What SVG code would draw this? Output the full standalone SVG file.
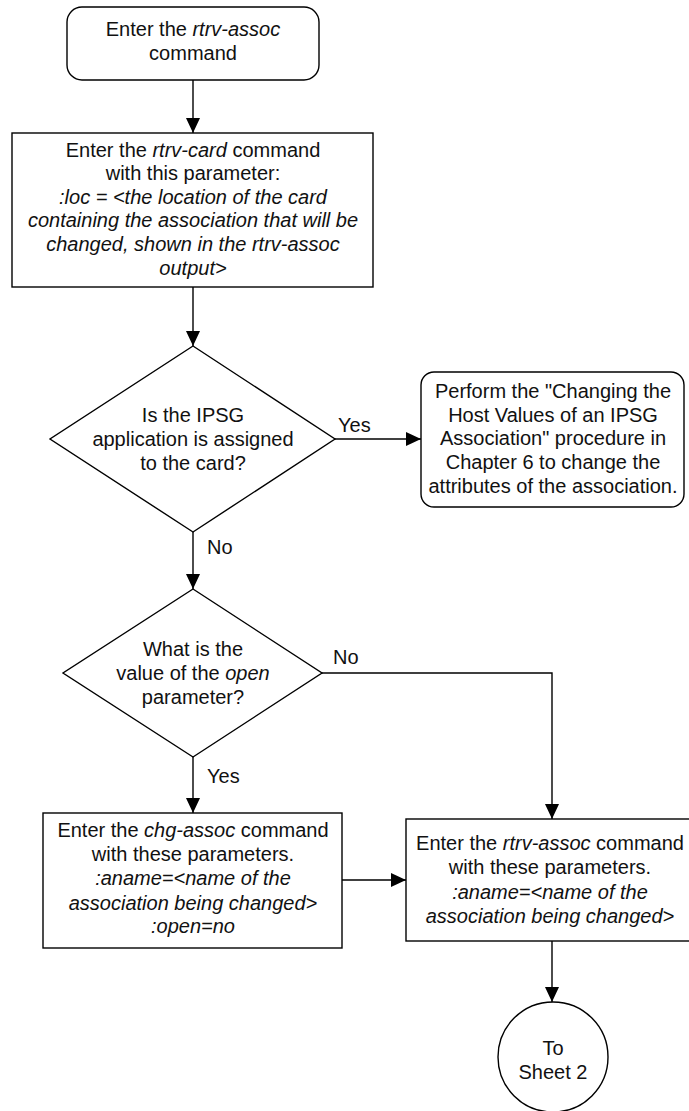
<svg xmlns="http://www.w3.org/2000/svg" width="689" height="1111" viewBox="0 0 689 1111">
<style>
.s{fill:#fff;stroke:#000;stroke-width:1.4}
.t{font-family:"Liberation Sans",Arial,sans-serif;font-size:20px;fill:#111;text-anchor:middle}
.l{font-family:"Liberation Sans",Arial,sans-serif;font-size:20px;fill:#111}
.i{font-style:italic}
.c{fill:none;stroke:#000;stroke-width:1.4}
</style>
<defs>
<marker id="ah" viewBox="0 0 15 14" refX="15" refY="7" markerWidth="15" markerHeight="14" markerUnits="userSpaceOnUse" orient="auto">
<path d="M0,0 L15,7 L0,14 Z" fill="#000"/>
</marker>
</defs>
<rect width="689" height="1111" fill="#fff"/>
<g id="connectors">
<path class="c" d="M193,80 V133" marker-end="url(#ah)"/>
<path class="c" d="M193,287 V346" marker-end="url(#ah)"/>
<path class="c" d="M335,439 H421" marker-end="url(#ah)"/>
<path class="c" d="M193,532 V589" marker-end="url(#ah)"/>
<path class="c" d="M322,673 H552 V819" marker-end="url(#ah)"/>
<path class="c" d="M193,757 V813" marker-end="url(#ah)"/>
<path class="c" d="M342,880 H406" marker-end="url(#ah)"/>
<path class="c" d="M552,941 V1002" marker-end="url(#ah)"/>
<text class="l" x="338" y="432">Yes</text>
<text class="l" x="207" y="554">No</text>
<text class="l" x="333" y="664">No</text>
<text class="l" x="207" y="783">Yes</text>
</g>
<g id="start">
<rect class="s" x="67" y="7" width="252" height="73" rx="15"/>
<text class="t" x="193" y="36">Enter the <tspan class="i">rtrv-assoc</tspan></text>
<text class="t" x="193" y="60">command</text>
</g>
<g id="rtrv-card">
<rect class="s" x="12" y="133" width="361" height="154"/>
<text class="t" x="193" y="157">Enter the <tspan class="i">rtrv-card</tspan> command</text>
<text class="t" x="193" y="180">with this parameter:</text>
<text class="t i" x="193" y="204">:loc = &lt;the location of the card</text>
<text class="t i" x="193" y="227">containing the association that will be</text>
<text class="t i" x="193" y="251">changed, shown in the rtrv-assoc</text>
<text class="t i" x="193" y="275">output&gt;</text>
</g>
<g id="ipsg-decision">
<path class="s" d="M193,346 L335,439 L193,532 L50,439 Z"/>
<text class="t" x="193" y="422">Is the IPSG</text>
<text class="t" x="193" y="446">application is assigned</text>
<text class="t" x="193" y="470">to the card?</text>
</g>
<g id="perform">
<rect class="s" x="421" y="372" width="263" height="135" rx="13"/>
<text class="t" x="553" y="398">Perform the "Changing the</text>
<text class="t" x="553" y="422">Host Values of an IPSG</text>
<text class="t" x="553" y="445">Association" procedure in</text>
<text class="t" x="553" y="469">Chapter 6 to change the</text>
<text class="t" x="553" y="493">attributes of the association.</text>
</g>
<g id="open-decision">
<path class="s" d="M193,589 L322,673 L193,757 L63,673 Z"/>
<text class="t" x="193" y="656">What is the</text>
<text class="t" x="193" y="680">value of the <tspan class="i">open</tspan></text>
<text class="t" x="193" y="704">parameter?</text>
</g>
<g id="chg-assoc">
<rect class="s" x="43" y="813" width="299" height="135"/>
<text class="t" x="193" y="837">Enter the <tspan class="i">chg-assoc</tspan> command</text>
<text class="t" x="193" y="861">with these parameters.</text>
<text class="t i" x="193" y="885">:aname=&lt;name of the</text>
<text class="t i" x="193" y="910">association being changed&gt;</text>
<text class="t i" x="193" y="933">:open=no</text>
</g>
<g id="rtrv-assoc">
<rect class="s" x="406" y="819" width="292" height="122"/>
<text class="t" x="550" y="850">Enter the <tspan class="i">rtrv-assoc</tspan> command</text>
<text class="t" x="550" y="874">with these parameters.</text>
<text class="t i" x="550" y="899">:aname=&lt;name of the</text>
<text class="t i" x="550" y="923">association being changed&gt;</text>
</g>
<g id="to-sheet-2">
<ellipse class="s" cx="553" cy="1057" rx="55" ry="55"/>
<text class="t" x="553" y="1055">To</text>
<text class="t" x="553" y="1079">Sheet 2</text>
</g>
</svg>
